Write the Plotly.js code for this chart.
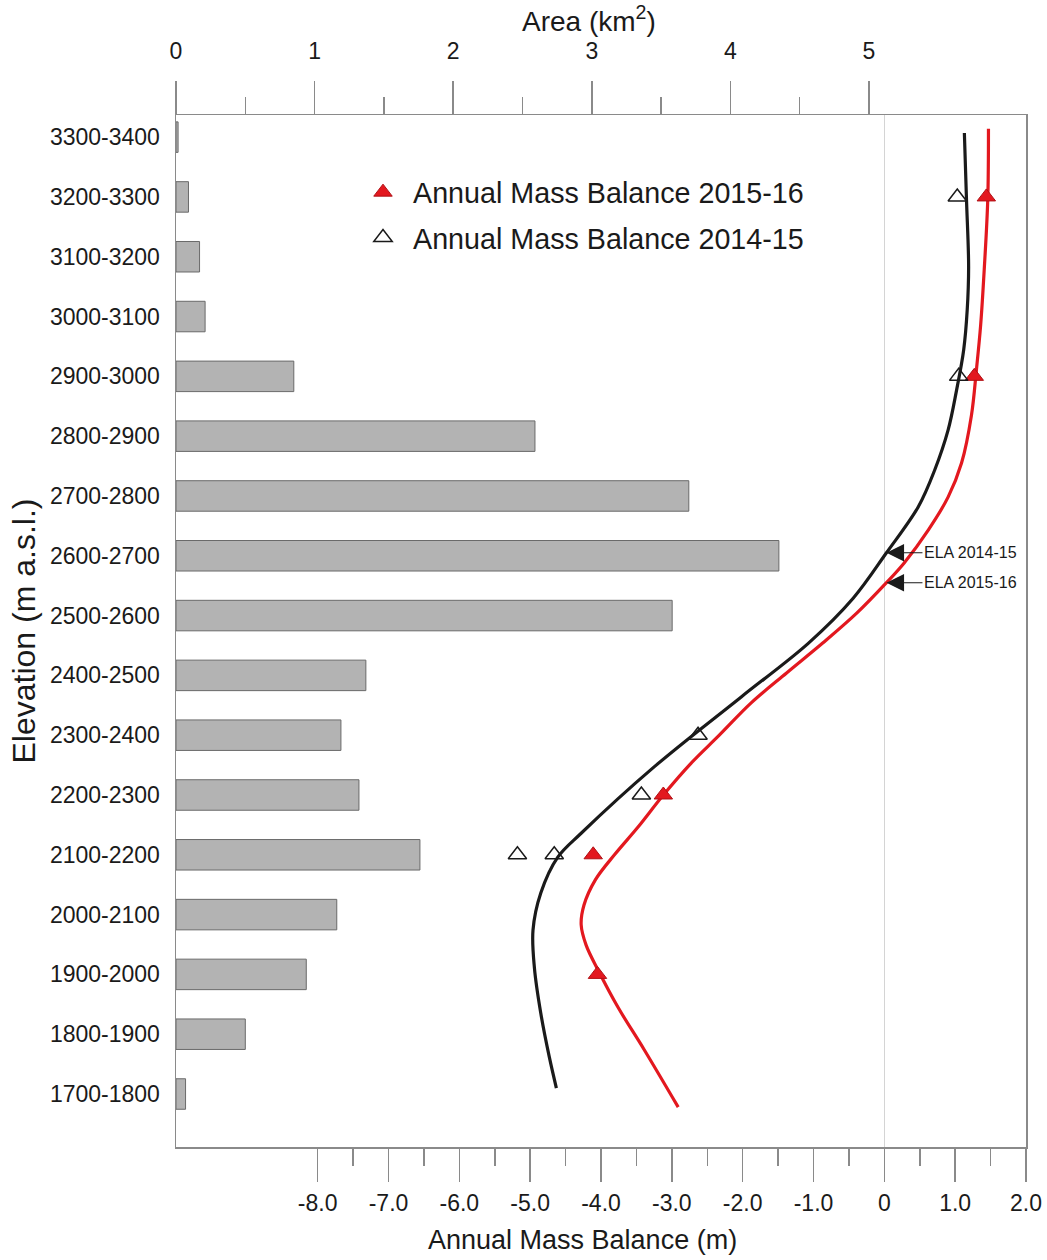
<!DOCTYPE html>
<html>
<head>
<meta charset="utf-8">
<script src="https://cdn.plot.ly/plotly-3.0.1.min.js"></script>
<style>html,body{margin:0;padding:0;background:#fff;}#chart{width:1047px;height:1260px;}</style>
</head>
<body>
<div id="chart"></div>
<script>
// Elevation bands (bottom to top) and glacier area per band (km²)
const elevationBands = ['1700-1800','1800-1900','1900-2000','2000-2100','2100-2200','2200-2300','2300-2400','2400-2500','2500-2600','2600-2700','2700-2800','2800-2900','2900-3000','3000-3100','3100-3200','3200-3300','3300-3400'];
const areaKm2 = [0.069, 0.50, 0.94, 1.16, 1.76, 1.32, 1.19, 1.37, 3.58, 4.35, 3.70, 2.59, 0.85, 0.21, 0.17, 0.09, 0.015];

// Annual mass balance measurements (m)
const mb2016Bands = ['1900-2000','2100-2200','2200-2300','2900-3000','3200-3300'];
const mb2016 = [-4.05, -4.11, -3.12, 1.27, 1.44];
const mb2015Bands = ['2100-2200','2100-2200','2200-2300','2300-2400','2900-3000','3200-3300'];
const mb2015 = [-5.18, -4.66, -3.43, -2.63, 1.05, 1.03];

// Fitted mass balance profiles: elevation (m a.s.l.) and balance (m)
const curve2015Elev = [3357, 3245, 3133, 3061, 2994, 2927, 2860, 2793, 2732, 2655, 2579, 2504, 2414, 2297, 2186, 2146, 2086, 2024, 1961, 1885, 1812, 1760];
const curve2015MB   = [1.13, 1.16, 1.19, 1.17, 1.12, 1.02, 0.90, 0.71, 0.48, 0.03, -0.44, -1.07, -2.02, -3.25, -4.28, -4.61, -4.85, -4.96, -4.94, -4.85, -4.73, -4.63];
const curve2016Elev = [3364, 3245, 3128, 3036, 2961, 2885, 2805, 2748, 2693, 2638, 2605, 2554, 2504, 2454, 2404, 2350, 2303, 2250, 2196, 2150, 2108, 2066, 2033, 1999, 1957, 1895, 1824, 1728];
const curve2016MB   = [1.47, 1.46, 1.41, 1.36, 1.30, 1.23, 1.09, 0.90, 0.62, 0.28, 0.03, -0.39, -0.87, -1.38, -1.88, -2.33, -2.73, -3.12, -3.48, -3.81, -4.08, -4.24, -4.28, -4.21, -4.04, -3.76, -3.39, -2.91];

// Equilibrium line altitudes
const elaLabels = ['ELA 2014-15', 'ELA 2015-16'];
const elaElev = [2655, 2605];
const elaMB = [0.03, 0.03];

// Axis tick values
const areaTicks = [0, 1, 2, 3, 4, 5];
const areaMinorTicks = [0.5, 1.5, 2.5, 3.5, 4.5];
const mbTicks = [-8, -7, -6, -5, -4, -3, -2, -1, 0, 1, 2];
const mbTickText = ['-8.0','-7.0','-6.0','-5.0','-4.0','-3.0','-2.0','-1.0','0','1.0','2.0'];
const mbMinorTicks = [-7.5,-6.5,-5.5,-4.5,-3.5,-2.5,-1.5,-0.5,0.5,1.5];

const bandCenter = b => (parseInt(b.split('-')[0], 10) + parseInt(b.split('-')[1], 10)) / 2;
const bandCenters = elevationBands.map(bandCenter);

const FONT = 'Arial, "Liberation Sans", Helvetica, sans-serif';
const AXIS_GRAY = '#8a8a8a';
const INK = '#1a1a1a';

const traces = [
  {
    type: 'bar', orientation: 'h',
    x: areaKm2, y: bandCenters,
    xaxis: 'x2', yaxis: 'y',
    width: 51,
    marker: {color: '#b3b3b3', line: {color: '#6a6a6a', width: 1}},
    showlegend: false
  },
  {
    type: 'scatter', mode: 'lines',
    x: curve2015MB, y: curve2015Elev,
    line: {color: INK, width: 3.2, shape: 'spline', smoothing: 1},
    showlegend: false
  },
  {
    type: 'scatter', mode: 'lines',
    x: curve2016MB, y: curve2016Elev,
    line: {color: '#e3181f', width: 3.2, shape: 'spline', smoothing: 1},
    showlegend: false
  },
  {
    type: 'scatter', mode: 'markers',
    name: 'Annual Mass Balance 2015-16', legendgroup: 'a',
    x: mb2016, y: mb2016Bands.map(bandCenter),
    marker: {symbol: 'triangle-up', size: 16, color: '#e3181f', line: {color: '#b01015', width: 1}}
  },
  {
    type: 'scatter', mode: 'markers',
    name: 'Annual Mass Balance 2014-15', legendgroup: 'b',
    x: mb2015, y: mb2015Bands.map(bandCenter),
    marker: {symbol: 'triangle-up-open', size: 16, color: INK, line: {color: INK, width: 1.5}}
  }
];

const annotations = elaLabels.map((t, i) => ({
  x: elaMB[i], y: elaElev[i], xref: 'x', yref: 'y',
  text: t, showarrow: true, arrowhead: 2, arrowsize: 3.2, arrowwidth: 1.1, arrowcolor: INK,
  ax: 36, ay: 0, xanchor: 'left', yanchor: 'middle',
  font: {family: FONT, size: 16, color: INK}
}));
annotations.push({
  xref: 'paper', yref: 'paper', x: (582 - 176) / 850, y: (1147 - 1240) / 1032,
  text: 'Annual Mass Balance (m)', showarrow: false,
  xanchor: 'center', yanchor: 'middle', font: {family: FONT, size: 27, color: INK}
});
annotations.push({
  xref: 'paper', yref: 'paper', x: (589 - 176) / 850, y: (1147 - 19) / 1032,
  text: 'Area (km<sup>2</sup>)', showarrow: false,
  xanchor: 'center', yanchor: 'middle', font: {family: FONT, size: 28, color: INK}
});

const layout = {
  width: 1047, height: 1260,
  margin: {l: 176, r: 21, t: 115, b: 113},
  paper_bgcolor: '#ffffff', plot_bgcolor: '#ffffff',
  font: {family: FONT, color: INK, size: 23},
  showlegend: true,
  legend: {
    x: (353 - 176) / 850, y: (1147 - 167) / 1032, xanchor: 'left', yanchor: 'top',
    bgcolor: 'rgba(0,0,0,0)', font: {family: FONT, size: 28.7, color: INK},
    traceorder: 'grouped', tracegroupgap: 5, itemwidth: 50
  },
  xaxis: {
    range: [-10, 2], side: 'bottom',
    tickmode: 'array', tickvals: mbTicks, ticktext: mbTickText,
    ticks: 'outside', ticklen: 33, tickwidth: 1.5, tickcolor: AXIS_GRAY,
    minor: {tickmode: 'array', tickvals: mbMinorTicks, ticks: 'outside', ticklen: 17, tickwidth: 1.5, tickcolor: AXIS_GRAY, showgrid: false},
    showline: true, linecolor: AXIS_GRAY, linewidth: 1.5,
    showgrid: false, zeroline: true, zerolinecolor: '#d4d4d4', zerolinewidth: 1.5,
    tickfont: {family: FONT, size: 23, color: INK},
    ticklabelstandoff: 2, fixedrange: true
  },
  xaxis2: {
    range: [0, 6.133], overlaying: 'x', side: 'top', anchor: 'y',
    tickmode: 'array', tickvals: areaTicks,
    ticks: 'outside', ticklen: 33, tickwidth: 1.5, tickcolor: AXIS_GRAY,
    minor: {tickmode: 'array', tickvals: areaMinorTicks, ticks: 'outside', ticklen: 17, tickwidth: 1.5, tickcolor: AXIS_GRAY, showgrid: false},
    showline: true, linecolor: AXIS_GRAY, linewidth: 1.5,
    showgrid: false, zeroline: false,
    tickfont: {family: FONT, size: 23, color: INK},
    ticklabelstandoff: 12, fixedrange: true
  },
  yaxis: {
    range: [1661.4, 3387],
    tickmode: 'array', tickvals: bandCenters, ticktext: elevationBands,
    ticks: '', showline: true, mirror: true, linecolor: AXIS_GRAY, linewidth: 1.5,
    showgrid: false, zeroline: false,
    tickfont: {family: FONT, size: 23, color: INK},
    ticklabelstandoff: 10,
    title: {text: 'Elevation (m a.s.l.)', font: {family: FONT, size: 32, color: INK}, standoff: 4},
    fixedrange: true
  },
  annotations: annotations
};

Plotly.newPlot('chart', traces, layout, {displayModeBar: false, staticPlot: true});
</script>
</body>
</html>
